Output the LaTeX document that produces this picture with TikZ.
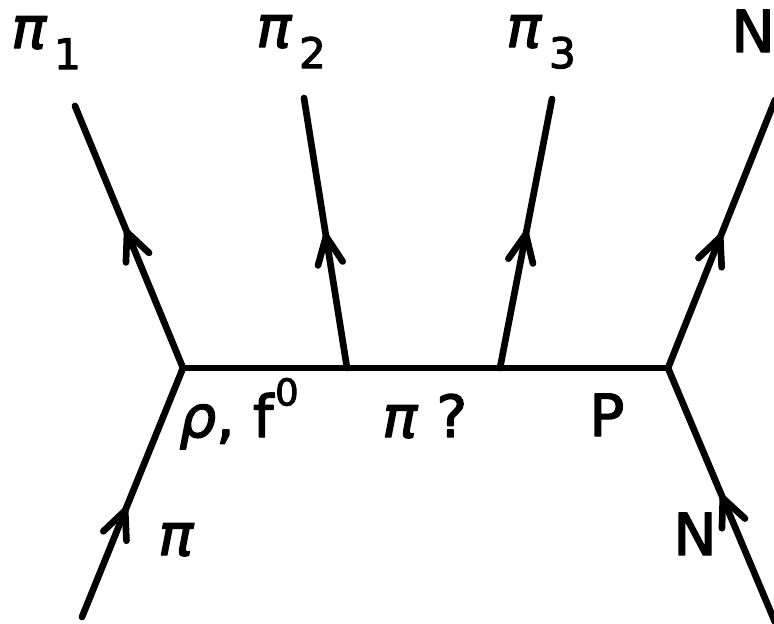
\documentclass[tikz,border=0pt]{standalone}
\usepackage{fontspec}
\setmainfont{DejaVu Sans}[FakeBold=2.5]
\usetikzlibrary{arrows.meta,decorations.markings}

\newcommand{\gk}[1]{\textit{#1}}
\newcommand{\subidx}[1]{\hspace{4pt}\raisebox{-12pt}{\fontsize{24}{24}\selectfont #1}}
\newcommand{\supidx}[1]{\hspace{1pt}\raisebox{18pt}{\fontsize{21}{21}\selectfont #1}}

\begin{document}
\begin{tikzpicture}[
  x=0.02cm, y=-0.02cm,
  line width=3.8pt, line cap=round, line join=round,
  every node/.style={font=\fontsize{33}{36}\selectfont, inner sep=0pt, anchor=base west},
  prop/.style={postaction={decorate, decoration={markings,
    mark=at position #1 with {\arrow{Straight Barb[length=5.5mm, width=5mm, round]}}}}},
]
  \useasboundingbox (0,0) rectangle (774,623);
  % vertices
  \coordinate (a) at (183,368);
  \coordinate (b) at (347,368);
  \coordinate (c) at (500,368);
  \coordinate (d) at (668,368);
  % free ends
  \coordinate (pin)  at (82,617);
  \coordinate (p1)   at (75,106);
  \coordinate (p2)   at (304,98);
  \coordinate (p3)   at (552,99);
  \coordinate (nout) at (775,100);
  \coordinate (nin)  at (775,622);

  \draw (a) -- (d);
  \draw[prop=0.44] (pin) -- (a);
  \draw[prop=0.53] (a) -- (p1);
  \draw[prop=0.50] (b) -- (p2);
  \draw[prop=0.51] (c) -- (p3);
  \draw[prop=0.50] (d) -- (nout);
  \draw[prop=0.50] (nin) -- (d);

  % labels
  \node (pi1)  at (8,48)    {\gk{π}\subidx{1}};
  \node (pi2)  at (253,47)  {\gk{π}\subidx{2}};
  \node (pi3)  at (503,47)  {\gk{π}\subidx{3}};
  \node (ntop) at (728,52)  {N};
  \node (rho)  at (176,437) {\gk{ρ}, f\supidx{0}};
  \node (pix)  at (379,437) {\gk{π} ?};
  \node (pom)  at (586,436) {P};
  \node (piin) at (155,555) {\gk{π}};
  \node (nbot) at (670,555) {N};
\end{tikzpicture}
\end{document}
